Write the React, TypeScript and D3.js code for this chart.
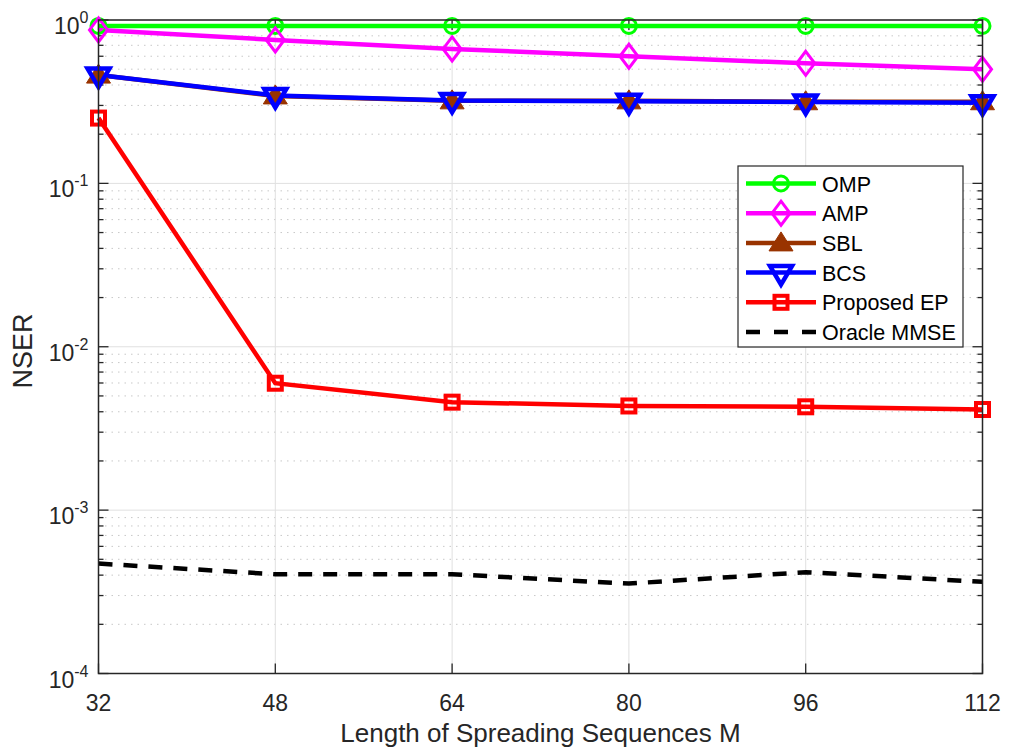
import React from "react";
import * as d3 from "d3";

// chart data
const lengths = [32, 48, 64, 80, 96, 112];
const ompVals = [0.92, 0.92, 0.92, 0.92, 0.92, 0.92];
const ampVals = [0.87, 0.755, 0.665, 0.6, 0.543, 0.499];
const sblVals = [0.46, 0.343, 0.32, 0.32, 0.316, 0.316];
const bcsVals = [0.46, 0.345, 0.322, 0.318, 0.315, 0.312];
const epVals = [0.251, 0.00598, 0.00458, 0.00434, 0.00429, 0.00413];
const mmseVals = [0.000471, 0.000405, 0.000405, 0.000355, 0.000417, 0.000364];
const yExps = [0, -1, -2, -3, -4];

const series = [
  { name: "OMP", values: ompVals, color: "#00ff00", marker: "circle" },
  { name: "AMP", values: ampVals, color: "#ff00ff", marker: "diamond" },
  { name: "SBL", values: sblVals, color: "#993300", marker: "up" },
  { name: "BCS", values: bcsVals, color: "#0000ff", marker: "down" },
  { name: "Proposed EP", values: epVals, color: "#ff0000", marker: "square" },
  { name: "Oracle MMSE", values: mmseVals, color: "#000000", marker: "none" },
];

const W = 1009;
const H = 753;
const L = 98.5;
const R = 982.5;
const T = 20;
const B = 673.5;
const FONT = "'Liberation Sans', Arial, Helvetica, sans-serif";
const LW = 4.5;

function Marker({ kind, x, y, color }: { kind: string; x: number; y: number; color: string }) {
  const sw = 3;
  if (kind === "circle")
    return <circle cx={x} cy={y} r={7.5} fill="none" stroke={color} strokeWidth={sw} />;
  if (kind === "diamond")
    return (
      <path
        d={`M${x},${y - 12}L${x + 9},${y}L${x},${y + 12}L${x - 9},${y}Z`}
        fill="none"
        stroke={color}
        strokeWidth={sw}
      />
    );
  if (kind === "up")
    return (
      <path
        d={`M${x},${y - 11}L${x + 12},${y + 8}L${x - 12},${y + 8}Z`}
        fill={color}
        stroke={color}
        strokeWidth={1}
      />
    );
  if (kind === "down")
    return (
      <path
        d={`M${x},${y + 12}L${x + 11},${y - 6.5}L${x - 11},${y - 6.5}Z`}
        fill="none"
        stroke={color}
        strokeWidth={sw + 1.5}
        strokeLinejoin="miter"
      />
    );
  if (kind === "square")
    return (
      <rect x={x - 6.5} y={y - 6.5} width={13} height={13} fill="none" stroke={color} strokeWidth={sw + 1} />
    );
  return null;
}

export default function App() {
  const x = d3.scaleLinear().domain([32, 112]).range([L, R]);
  const y = d3.scaleLog().domain([1e-4, 1]).range([B, T]);

  const line = d3
    .line<number>()
    .x((_, i) => x(lengths[i]))
    .y((v) => y(v));

  const minor: number[] = [];
  for (let e = -4; e < 0; e++) for (let k = 2; k <= 9; k++) minor.push(k * Math.pow(10, e));

  const legendX = 738;
  const legendY = 166;
  const rowH = 29.7;

  return (
    <svg width={W} height={H} style={{ position: "absolute", left: 0, top: 0, background: "#fff" }} fontFamily={FONT}>
      <rect x={0} y={0} width={W} height={H} fill="#fff" />
      {/* minor grid */}
      {minor.map((v) => (
        <line key={"mg" + v} x1={L} x2={R} y1={y(v)} y2={y(v)} stroke="#c8c8c8" strokeWidth={1} strokeDasharray="1.5,5" />
      ))}
      {/* major grid */}
      {yExps.map((e) => (
        <line key={"yg" + e} x1={L} x2={R} y1={y(Math.pow(10, e))} y2={y(Math.pow(10, e))} stroke="#e0e0e0" strokeWidth={1} />
      ))}
      {lengths.map((m) => (
        <line key={"xg" + m} x1={x(m)} x2={x(m)} y1={T} y2={B} stroke="#e0e0e0" strokeWidth={1} />
      ))}
      {/* ticks */}
      {yExps.map((e) => (
        <g key={"yt" + e}>
          <line x1={L} x2={L + 10} y1={y(Math.pow(10, e))} y2={y(Math.pow(10, e))} stroke="#262626" strokeWidth={1.3} />
          <line x1={R} x2={R - 10} y1={y(Math.pow(10, e))} y2={y(Math.pow(10, e))} stroke="#262626" strokeWidth={1.3} />
        </g>
      ))}
      {minor.map((v) => (
        <g key={"mt" + v}>
          <line x1={L} x2={L + 5} y1={y(v)} y2={y(v)} stroke="#262626" strokeWidth={1.3} />
          <line x1={R} x2={R - 5} y1={y(v)} y2={y(v)} stroke="#262626" strokeWidth={1.3} />
        </g>
      ))}
      {lengths.map((m) => (
        <g key={"xt" + m}>
          <line x1={x(m)} x2={x(m)} y1={B} y2={B - 10} stroke="#262626" strokeWidth={1.3} />
          <line x1={x(m)} x2={x(m)} y1={T} y2={T + 10} stroke="#262626" strokeWidth={1.3} />
        </g>
      ))}
      {/* series */}
      {series.map((s) => (
        <path
          key={s.name}
          d={line(s.values) || ""}
          fill="none"
          stroke={s.color}
          strokeWidth={LW}
          strokeDasharray={s.marker === "none" ? "14,11" : undefined}
        />
      ))}
      {series.map((s) =>
        s.values.map((v, i) => <Marker key={s.name + i} kind={s.marker} x={x(lengths[i])} y={y(v)} color={s.color} />)
      )}
      {/* box */}
      <rect x={L} y={T} width={R - L} height={B - T} fill="none" stroke="#262626" strokeWidth={1.5} />
      {/* tick labels */}
      {yExps.map((e) => (
        <text key={"yl" + e} x={L - 10} y={y(Math.pow(10, e)) + 14} textAnchor="end" fontSize={23} fill="#262626">
          10
          <tspan dy={-11} fontSize={16}>
            {e}
          </tspan>
        </text>
      ))}
      {lengths.map((m) => (
        <text key={"xl" + m} x={x(m)} y={B + 37} textAnchor="middle" fontSize={23} fill="#262626">
          {m}
        </text>
      ))}
      <text x={(L + R) / 2} y={742} textAnchor="middle" fontSize={26} fill="#262626">
        Length of Spreading Sequences M
      </text>
      <text transform={`translate(32,${351}) rotate(-90)`} textAnchor="middle" fontSize={27} fill="#262626">
        NSER
      </text>
      {/* legend */}
      <rect x={legendX} y={legendY} width={225} height={181} fill="#fff" stroke="#262626" strokeWidth={1.2} />
      {series.map((s, i) => {
        const cy = legendY + 17.5 + i * rowH;
        return (
          <g key={"lg" + s.name}>
            <line
              x1={legendX + 8}
              x2={legendX + 78}
              y1={cy}
              y2={cy}
              stroke={s.color}
              strokeWidth={LW}
              strokeDasharray={s.marker === "none" ? "14,14" : undefined}
            />
            <Marker kind={s.marker} x={legendX + 43} y={cy} color={s.color} />
            <text x={legendX + 84} y={cy + 8} fontSize={21.5} fill="#000">
              {s.name}
            </text>
          </g>
        );
      })}
    </svg>
  );
}
